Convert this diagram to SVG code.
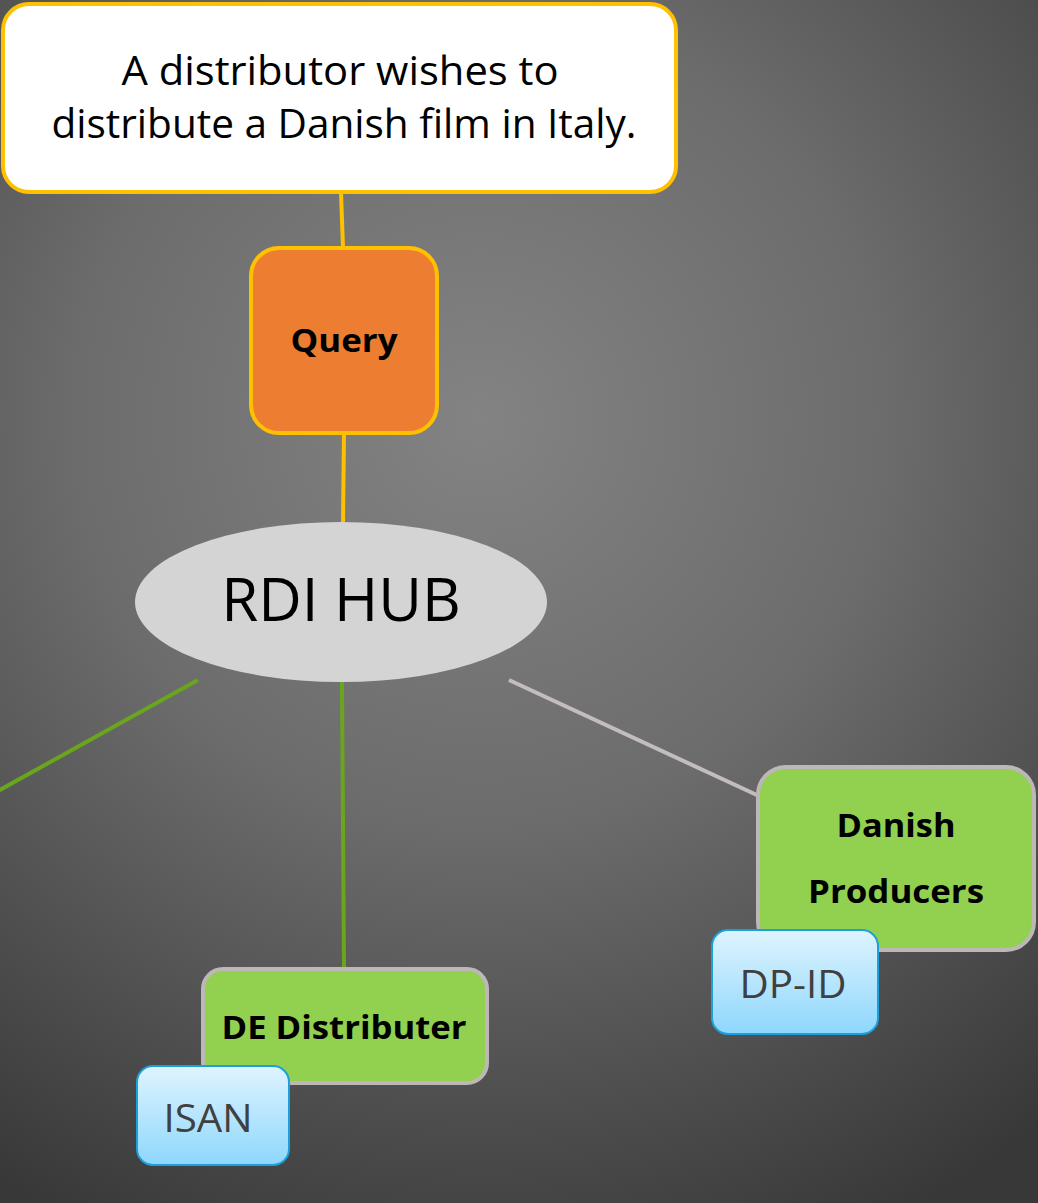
<svg xmlns="http://www.w3.org/2000/svg" width="1038" height="1203" viewBox="0 0 1038 1203">
<defs>
<radialGradient id="bg" gradientUnits="userSpaceOnUse" cx="480" cy="420" r="900">
<stop offset="0" stop-color="#838383"/>
<stop offset="0.45" stop-color="#6c6c6c"/>
<stop offset="1" stop-color="#383838"/>
</radialGradient>
<linearGradient id="blue" x1="0" y1="0" x2="0" y2="1">
<stop offset="0" stop-color="#DFF4FE"/>
<stop offset="1" stop-color="#8ED7FD"/>
</linearGradient>
<style>
.gold{fill:none;stroke:#FFC000;stroke-width:4}
.green{fill:none;stroke:#6AA51E;stroke-width:4}
.grey{fill:none;stroke:#C3BDBD;stroke-width:4}
.gbox{fill:#92D050;stroke:#BDB7B7;stroke-width:4}
.bbox{fill:url(#blue);stroke:#1CA0DC;stroke-width:2}
.t{font-family:"Open Sans","Liberation Sans",sans-serif;text-anchor:middle}
.b{font-weight:bold;font-size:33px;fill:#000}
.lbl{font-size:39px;fill:#404040}
</style>
</defs>
<rect width="1038" height="1203" fill="url(#bg)"/>
<g id="connectors">
<line class="gold" x1="341" y1="192" x2="343" y2="248"/>
<line class="gold" x1="344" y1="433" x2="343" y2="522"/>
<line class="green" x1="198" y1="680" x2="-2" y2="791"/>
<line class="green" x1="342" y1="682" x2="344" y2="969"/>
<line class="grey" x1="509" y1="680" x2="759" y2="796"/>
</g>
<g id="scenario">
<rect x="3" y="4" width="673" height="188" rx="26" fill="#fff" stroke="#FFC000" stroke-width="4"/>
<text class="t" x="340" y="85" font-size="40" fill="#000" textLength="437" lengthAdjust="spacingAndGlyphs">A distributor wishes to</text>
<text class="t" x="344" y="138" font-size="40" fill="#000" textLength="585" lengthAdjust="spacingAndGlyphs">distribute a Danish film in Italy.</text>
</g>
<g id="query">
<rect x="251" y="248" width="186" height="185" rx="28" fill="#ED7D31" stroke="#FFC000" stroke-width="4"/>
<text class="t b" x="344" y="352" textLength="107" lengthAdjust="spacingAndGlyphs">Query</text>
</g>
<g id="hub">
<ellipse cx="341" cy="602" rx="206" ry="80" fill="#D4D4D4"/>
<text class="t" x="341" y="621" font-size="60" fill="#000">RDI HUB</text>
</g>
<g id="danish-producers">
<rect x="758" y="767" width="276" height="183" rx="28" class="gbox"/>
<text class="t b" x="896" y="837" textLength="119" lengthAdjust="spacingAndGlyphs">Danish</text>
<text class="t b" x="896" y="903" textLength="176" lengthAdjust="spacingAndGlyphs">Producers</text>
</g>
<g id="dp-id">
<rect x="712" y="930" width="166" height="104" rx="16" class="bbox"/>
<text class="t lbl" x="793" y="998" textLength="107" lengthAdjust="spacingAndGlyphs">DP-ID</text>
</g>
<g id="de-distributer">
<rect x="203" y="969" width="284" height="114" rx="20" class="gbox"/>
<text class="t b" x="344" y="1039" textLength="245" lengthAdjust="spacingAndGlyphs">DE Distributer</text>
</g>
<g id="isan">
<rect x="137" y="1066" width="152" height="99" rx="16" class="bbox"/>
<text class="t lbl" x="208" y="1132" textLength="89" lengthAdjust="spacingAndGlyphs">ISAN</text>
</g>
</svg>
